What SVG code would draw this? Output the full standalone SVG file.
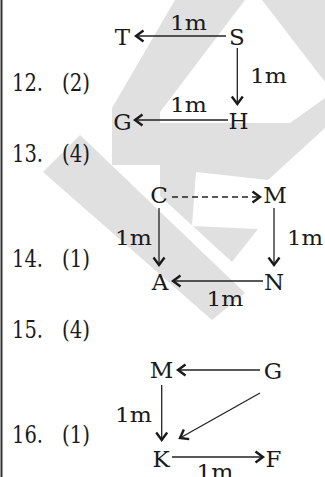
<svg xmlns="http://www.w3.org/2000/svg" width="325" height="477" viewBox="0 0 325 477">
<style>
.wm{fill:#e0e0e0;stroke:none}
.lbl{font-family:"DejaVu Serif","Liberation Serif",serif;font-size:24px;fill:#1a1a1a}
.node{font-family:"DejaVu Serif","Liberation Serif",serif;font-size:23px;fill:#1a1a1a;text-anchor:middle}
.dist{font-family:"DejaVu Serif","Liberation Serif",serif;font-size:21px;fill:#1a1a1a;text-anchor:middle}
.edge{stroke:#222;stroke-width:1.3;fill:none}
.dash{stroke-dasharray:6 4}
</style>
<defs>
<marker id="chev" markerUnits="userSpaceOnUse" markerWidth="14" markerHeight="14" viewBox="-10 -7 12 14" refX="0" refY="0" orient="auto">
<path d="M-7.5,-5.5 L0,0 L-7.5,5.5" fill="none" stroke="#1a1a1a" stroke-width="2.4" stroke-dasharray="none" stroke-linejoin="miter"/>
</marker>
</defs>
<rect width="325" height="477" fill="#fff"/>
<g id="watermark">
<polygon class="wm" points="175,0 245,0 160,112 160,165 112,165 112,108"/>
<polygon class="wm" points="43,172 80,135 245,293 212,320"/>
<polygon class="wm" points="262,0 325,0 325,82"/>
<polygon class="wm" points="160,123 290,123 325,98 325,128 268,180 196,172 192,226 258,229 232,262 160,196"/>
</g>
<line x1="1.5" y1="0" x2="1.5" y2="477" stroke="#333" stroke-width="2"/>
<g id="labels">
<text class="lbl" x="12" y="91" textLength="31" lengthAdjust="spacingAndGlyphs">12.</text>
<text class="lbl" x="62" y="91" textLength="28" lengthAdjust="spacingAndGlyphs">(2)</text>
<text class="lbl" x="12" y="162" textLength="31" lengthAdjust="spacingAndGlyphs">13.</text>
<text class="lbl" x="62" y="162" textLength="28" lengthAdjust="spacingAndGlyphs">(4)</text>
<text class="lbl" x="12" y="267" textLength="31" lengthAdjust="spacingAndGlyphs">14.</text>
<text class="lbl" x="62" y="267" textLength="28" lengthAdjust="spacingAndGlyphs">(1)</text>
<text class="lbl" x="12" y="338" textLength="31" lengthAdjust="spacingAndGlyphs">15.</text>
<text class="lbl" x="62" y="338" textLength="28" lengthAdjust="spacingAndGlyphs">(4)</text>
<text class="lbl" x="12" y="443" textLength="31" lengthAdjust="spacingAndGlyphs">16.</text>
<text class="lbl" x="62" y="443" textLength="28" lengthAdjust="spacingAndGlyphs">(1)</text>
</g>
<g id="connectors">
<line class="edge" x1="226" y1="36" x2="136" y2="36" marker-end="url(#chev)"/>
<line class="edge" x1="237.3" y1="48" x2="237.3" y2="104" marker-end="url(#chev)"/>
<line class="edge" x1="228" y1="120" x2="135" y2="120" marker-end="url(#chev)"/>
<line class="edge dash" x1="172" y1="197" x2="260" y2="197" marker-end="url(#chev)"/>
<line class="edge" x1="159" y1="208" x2="159" y2="265" marker-end="url(#chev)"/>
<line class="edge" x1="274" y1="208" x2="274" y2="265" marker-end="url(#chev)"/>
<line class="edge" x1="263" y1="281" x2="173" y2="281" marker-end="url(#chev)"/>
<line class="edge" x1="260" y1="370" x2="178" y2="370" marker-end="url(#chev)"/>
<line class="edge" x1="161.7" y1="385" x2="161.7" y2="440" marker-end="url(#chev)"/>
<line class="edge" x1="260" y1="393" x2="180" y2="438" marker-end="url(#chev)"/>
<line class="edge" x1="172" y1="457" x2="263" y2="457" marker-end="url(#chev)"/>
</g>
<g id="d12">
<g id="n12-T"><text class="node" x="122.5" y="45">T</text></g>
<g id="n12-S"><text class="node" x="237" y="45">S</text></g>
<g id="n12-H"><text class="node" x="238.5" y="129">H</text></g>
<g id="n12-G"><text class="node" x="122.5" y="130">G</text></g>
<text class="dist" x="188.5" y="30" textLength="37" lengthAdjust="spacingAndGlyphs">1m</text>
<text class="dist" x="268.5" y="83" textLength="37" lengthAdjust="spacingAndGlyphs">1m</text>
<text class="dist" x="188.5" y="112" textLength="37" lengthAdjust="spacingAndGlyphs">1m</text>
</g>
<g id="d14">
<g id="n14-C"><text class="node" x="159" y="203">C</text></g>
<g id="n14-M"><text class="node" x="275" y="203">M</text></g>
<g id="n14-A"><text class="node" x="160" y="290">A</text></g>
<g id="n14-N"><text class="node" x="274" y="290">N</text></g>
<text class="dist" x="133.5" y="245" textLength="37" lengthAdjust="spacingAndGlyphs">1m</text>
<text class="dist" x="305" y="245" textLength="36" lengthAdjust="spacingAndGlyphs">1m</text>
<text class="dist" x="225" y="306" textLength="37" lengthAdjust="spacingAndGlyphs">1m</text>
</g>
<g id="d16">
<g id="n16-M"><text class="node" x="161.5" y="378">M</text></g>
<g id="n16-G"><text class="node" x="273" y="379">G</text></g>
<g id="n16-K"><text class="node" x="161" y="467">K</text></g>
<g id="n16-F"><text class="node" x="273.5" y="467">F</text></g>
<text class="dist" x="133.5" y="422" textLength="37" lengthAdjust="spacingAndGlyphs">1m</text>
<text class="dist" x="215" y="479" textLength="37" lengthAdjust="spacingAndGlyphs">1m</text>
</g>
</svg>
